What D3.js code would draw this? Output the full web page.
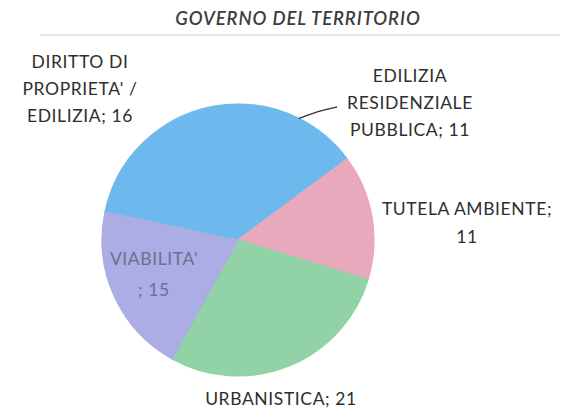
<!DOCTYPE html>
<html>
<head>
<meta charset="utf-8">
<script src="https://cdn.jsdelivr.net/npm/d3@7"></script>
<style>
  html, body { margin: 0; padding: 0; background: #ffffff; }
  svg { display: block; }
</style>
</head>
<body>
<svg id="chart" width="562" height="413"></svg>
<script>
// ---- data ----
const title = "GOVERNO DEL TERRITORIO";
const categories = [
  "DIRITTO DI PROPRIETA' / EDILIZIA",
  "EDILIZIA RESIDENZIALE PUBBLICA",
  "TUTELA AMBIENTE",
  "URBANISTICA",
  "VIABILITA'"
];
const values = [16, 11, 11, 21, 15];
const labelLines = [
  ["DIRITTO DI", "PROPRIETA' /", "EDILIZIA; 16"],
  ["EDILIZIA", "RESIDENZIALE", "PUBBLICA; 11"],
  ["TUTELA AMBIENTE;", "11"],
  ["URBANISTICA; 21"],
  ["VIABILITA'", "; 15"]
];

// ---- layout / style ----
const W = 562, H = 413;
const cx = 238, cy = 240, R = 136;
const startDeg = -78;
const colors = ["#6db8ec", "#6db8ec", "#e9a9bd", "#91d2a6", "#abade4"];
const labelPos = [ // label centre x, first baseline y
  {x: 80, y: 68},
  {x: 410, y: 82},
  {x: 467, y: 215},
  {x: 281, y: 405},
  {x: 154, y: 265}
];
const lineH = [27, 27, 28, 27, 31];
const labelColor = ["#2e2e2e", "#2e2e2e", "#2e2e2e", "#2e2e2e", "#6f6d92"];

const svg = d3.select("#chart");

// title
svg.append("text")
  .attr("x", 298).attr("y", 25)
  .attr("text-anchor", "middle")
  .attr("font-family", "Lato, 'Open Sans', sans-serif")
  .attr("font-style", "italic")
  .attr("font-weight", 600)
  .attr("font-size", 18.5)
  .attr("letter-spacing", 0.9)
  .attr("fill", "#3d3d3d")
  .text(title);

svg.append("line")
  .attr("x1", 40).attr("x2", 560).attr("y1", 35).attr("y2", 35)
  .attr("stroke", "#e3e6ea").attr("stroke-width", 2);

const pie = d3.pie().sort(null).value(d => d)
  .startAngle(startDeg * Math.PI / 180)
  .endAngle(startDeg * Math.PI / 180 + 2 * Math.PI);
const arcs = pie(values);
const arc = d3.arc().innerRadius(0).outerRadius(R);

const g = svg.append("g").attr("transform", `translate(${cx},${cy})`);
g.selectAll("path.slice").data(arcs).join("path")
  .attr("class", "slice")
  .attr("d", arc)
  .attr("fill", (d, i) => colors[i])
  .attr("stroke", (d, i) => colors[i])
  .attr("stroke-width", 1.2)
  .attr("stroke-linejoin", "round");

// leader line for EDILIZIA RESIDENZIALE PUBBLICA
const a1 = arcs[1];
const mid = (a1.startAngle + a1.endAngle) / 2;
const p0 = [cx + Math.sin(mid) * R, cy - Math.cos(mid) * R];
svg.append("path")
  .attr("d", d3.line().curve(d3.curveBasis)([p0, [p0[0] + 22, p0[1] - 8], [337, 107]]))
  .attr("fill", "none")
  .attr("stroke", "#333")
  .attr("stroke-width", 1.4);

// labels
const lg = svg.append("g")
  .attr("font-family", "Lato, 'Open Sans', sans-serif")
  .attr("font-size", 17.5)
  .attr("letter-spacing", 0.6)
  .attr("text-anchor", "middle");
labelLines.forEach((lines, i) => {
  const t = lg.append("text")
    .attr("x", labelPos[i].x)
    .attr("y", labelPos[i].y)
    .attr("fill", labelColor[i]);
  lines.forEach((ln, j) => {
    t.append("tspan")
      .attr("x", labelPos[i].x)
      .attr("dy", j === 0 ? 0 : lineH[i])
      .text(ln);
  });
});
</script>
</body>
</html>
